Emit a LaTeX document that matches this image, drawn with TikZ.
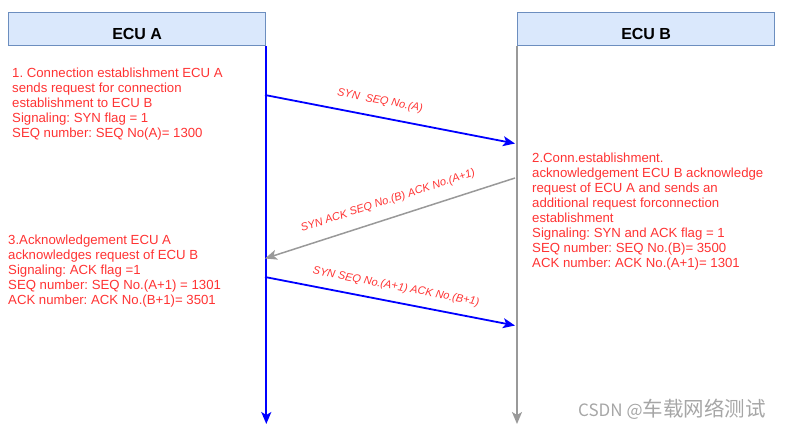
\documentclass[tikz,border=0pt]{standalone}
\usepackage{fontspec}
\setmainfont{Liberation Sans}
\newfontfamily\cjk{Noto Sans CJK SC}
\usetikzlibrary{arrows.meta}
\definecolor{boxfill}{HTML}{DAE8FC}
\definecolor{boxline}{HTML}{6C8EBF}
\definecolor{txtred}{HTML}{FF3333}
\definecolor{lgray}{HTML}{999999}
\definecolor{wmgray}{HTML}{A6A6A6}
\frenchspacing
\begin{document}
\begin{tikzpicture}[x=1pt,y=-1pt,
  ecubox/.style={draw=boxline, fill=boxfill, line width=1.3pt, minimum width=257pt, minimum height=33pt,
    inner sep=0pt, anchor=north west, font=\fontsize{16}{18}\selectfont\bfseries},
  note/.style={anchor=north west, inner sep=0pt, align=left, text=txtred, font=\fontsize{13.2}{15}\selectfont},
  msglabel/.style={inner sep=0pt, text=txtred, font=\fontsize{11}{13}\selectfont\itshape},
  bluemsg/.style={draw=blue, line width=1.8pt, -{Stealth[length=12pt,width=10pt,inset=3pt]}},
  graymsg/.style={draw=lgray, line width=1.5pt, -{Stealth[length=12pt,width=10pt,inset=3pt]}},
]
\frenchspacing
\useasboundingbox (0,0) rectangle (785,429);

\node[ecubox] (ecua) at (8,12) {\raisebox{-4.5pt}[\height][\depth]{ECU A}};
\node[ecubox] (ecub) at (517,12) {\raisebox{-4.5pt}[\height][\depth]{ECU B}};

\coordinate (aend) at (ecua.south east |- 0,424);
\coordinate (bend) at (ecub.south west |- 0,424);
\draw[bluemsg] (ecua.south east) -- (aend);
\draw[graymsg] (ecub.south west) -- (bend);

\coordinate (a1) at (265,95);
\coordinate (b1) at (515,143.5);
\coordinate (b2) at (515,178);
\coordinate (a2) at (265,258.5);
\coordinate (a3) at (265,277);
\coordinate (b3) at (515,325.5);

\draw[bluemsg] (a1) -- (b1);
\draw[graymsg] (b2) -- (a2);
\draw[bluemsg] (a3) -- (b3);

\node[msglabel, rotate=-10.9] (l1) at (380,101) {SYN\ \ SEQ No.(A)};
\node[msglabel, rotate=17.9] (l2) at (388,201) {SYN ACK SEQ No.(B) ACK No.(A+1)};
\node[msglabel, rotate=-10.9] (l3) at (396,287) {SYN SEQ No.(A+1) ACK No.(B+1)};

\node[note] (n1) at (12,68) {1. Connection establishment ECU A\\sends request for connection\\establishment to ECU B\\Signaling: SYN flag = 1\\SEQ number: SEQ No(A)= 1300};
\node[note] (n2) at (532,153) {2.Conn.establishment.\\acknowledgement ECU B acknowledge\\request of ECU A and sends an\\additional request forconnection\\establishment\\Signaling: SYN and ACK flag = 1\\SEQ number: SEQ No.(B)= 3500\\ACK number: ACK No.(A+1)= 1301};
\node[note] (n3) at (8,235) {3.Acknowledgement ECU A\\acknowledges request of ECU B\\Signaling: ACK flag =1\\SEQ number: SEQ No.(A+1) = 1301\\ACK number: ACK No.(B+1)= 3501};

\node[anchor=base west, inner sep=0pt, text=wmgray] (wm) at (578,416) {\cjk\fontsize{17}{20}\selectfont CSDN @\fontsize{20.5}{22}\selectfont 车载网络测试};
\end{tikzpicture}
\end{document}
